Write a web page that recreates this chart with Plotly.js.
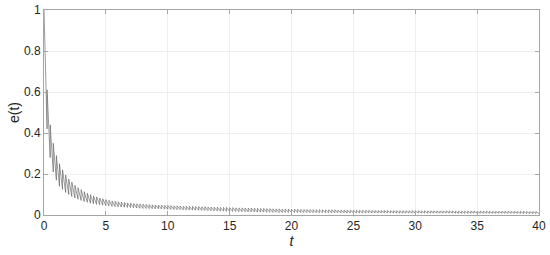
<!DOCTYPE html>
<html>
<head>
<meta charset="utf-8">
<script src="https://cdn.plot.ly/plotly-3.0.1.min.js"></script>
<style>body{margin:0;background:#fff}#chart{width:550px;height:255px}</style>
</head>
<body>
<div id="chart"></div>
<script>
// one impulse every 'period' seconds, value jumps to peak then decays to trough
const period=0.25;
const peaks=[
1.00,0.61,0.44,0.35,0.29,0.25,0.22,0.195,0.175,0.16,
0.145,0.133,0.123,0.114,0.106,0.099,0.093,0.088,0.083,0.079,
0.075,0.072,0.069,0.067,0.065,0.063,0.061,0.059,0.058,0.056,
0.055,0.054,0.053,0.052,0.051,0.050,0.049,0.048,0.048,0.047,
0.047,0.046,0.045,0.045,0.044,0.043,0.043,0.042,0.042,0.041,
0.041,0.040,0.040,0.039,0.039,0.038,0.038,0.037,0.037,0.037,
0.036,0.036,0.035,0.035,0.035,0.034,0.034,0.034,0.033,0.033,
0.032,0.032,0.031,0.031,0.030,0.030,0.030,0.029,0.029,0.029,
0.028,0.028,0.028,0.027,0.027,0.027,0.027,0.026,0.026,0.026,
0.026,0.025,0.025,0.025,0.025,0.024,0.024,0.024,0.024,0.024,
0.023,0.023,0.023,0.023,0.023,0.023,0.022,0.022,0.022,0.022,
0.022,0.022,0.021,0.021,0.021,0.021,0.021,0.021,0.021,0.021,
0.021,0.021,0.020,0.020,0.020,0.020,0.020,0.020,0.020,0.020,
0.020,0.020,0.020,0.019,0.019,0.019,0.019,0.019,0.019,0.019,
0.019,0.019,0.019,0.019,0.018,0.018,0.018,0.018,0.018,0.018,
0.018,0.018,0.018,0.018,0.018,0.018,0.017,0.017,0.017,0.017,
0.017];
const troughs=[
0.42,0.28,0.21,0.17,0.14,0.125,0.11,0.10,0.09,0.083,
0.077,0.071,0.066,0.062,0.058,0.055,0.052,0.050,0.048,0.046,
0.044,0.042,0.041,0.040,0.039,0.038,0.037,0.036,0.035,0.034,
0.033,0.032,0.032,0.031,0.031,0.030,0.030,0.029,0.029,0.028,
0.027,0.027,0.026,0.026,0.025,0.025,0.024,0.024,0.023,0.023,
0.022,0.022,0.021,0.021,0.020,0.020,0.019,0.019,0.018,0.018,
0.017,0.017,0.016,0.016,0.016,0.015,0.015,0.015,0.014,0.014,
0.014,0.013,0.013,0.013,0.013,0.012,0.012,0.012,0.012,0.012,
0.012,0.012,0.012,0.012,0.012,0.011,0.011,0.011,0.011,0.011,
0.011,0.011,0.011,0.011,0.011,0.010,0.010,0.010,0.010,0.010,
0.010,0.010,0.010,0.010,0.010,0.010,0.010,0.010,0.010,0.010,
0.010,0.010,0.010,0.009,0.009,0.009,0.009,0.009,0.009,0.009,
0.009,0.009,0.009,0.009,0.009,0.009,0.009,0.009,0.009,0.009,
0.009,0.009,0.009,0.008,0.008,0.008,0.008,0.008,0.008,0.008,
0.008,0.008,0.008,0.008,0.008,0.008,0.008,0.008,0.008,0.008,
0.008,0.008,0.008,0.007,0.007,0.007,0.007,0.007,0.007,0.007];
const xTicks=[0,5,10,15,20,25,30,35,40];
const yTicks=[0,0.2,0.4,0.6,0.8,1];

const tx=[],ey=[];
for(let k=0;k<troughs.length;k++){
  tx.push(k*period,(k+1)*period);
  ey.push(peaks[k],troughs[k]);
}

const ax={
  showline:true,mirror:'ticks',linecolor:'#a6a6a6',linewidth:1,
  ticks:'inside',ticklen:4,tickcolor:'#a6a6a6',
  showgrid:true,gridcolor:'#efefef',gridwidth:1,zeroline:false,
  tickfont:{size:12,color:'#262626'}
};
const data=[{x:tx,y:ey,type:'scatter',mode:'lines',
  line:{color:'#555555',width:0.6},hoverinfo:'skip'}];
const layout={
  width:550,height:255,
  margin:{l:44,r:11,t:10,b:40},
  paper_bgcolor:'#fff',plot_bgcolor:'#fff',
  font:{family:'"Liberation Sans", Arial, sans-serif',size:12,color:'#262626'},
  showlegend:false,
  xaxis:Object.assign({},ax,{range:[0,40],tickvals:xTicks,
    title:{text:'<i>t</i>',font:{size:14},standoff:1}}),
  yaxis:Object.assign({},ax,{range:[0,1],tickvals:yTicks,
    title:{text:'e(t)',font:{size:14},standoff:1}})
};
Plotly.newPlot('chart',data,layout,{staticPlot:true});
</script>
</body>
</html>
